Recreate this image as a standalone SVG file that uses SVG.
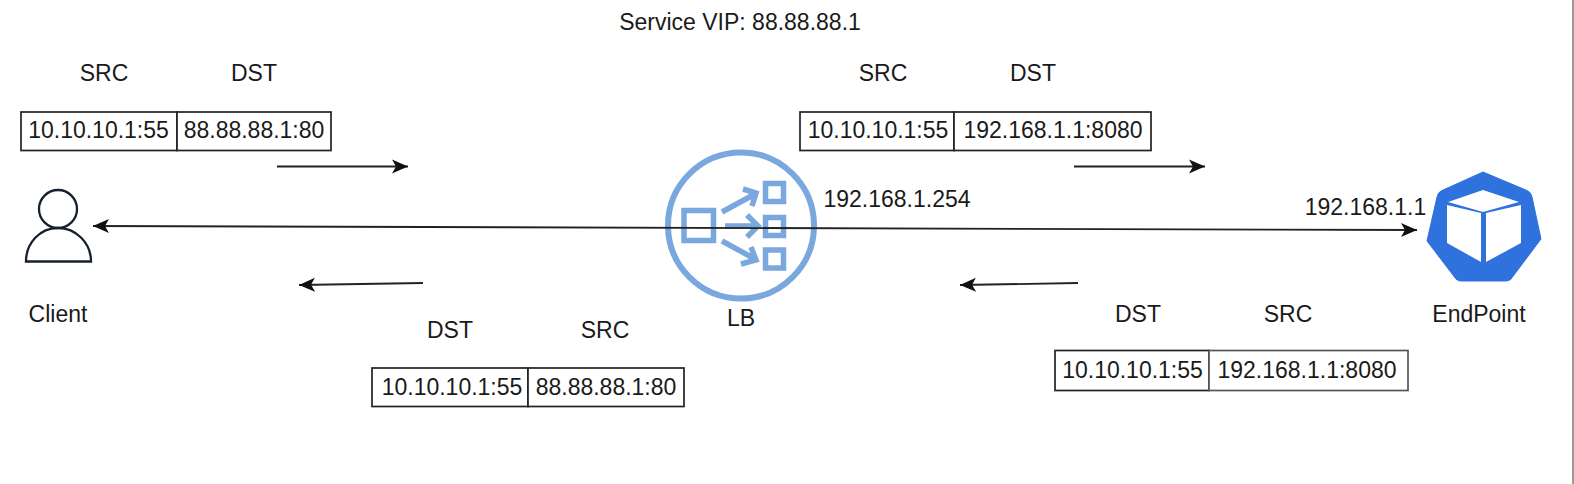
<svg xmlns="http://www.w3.org/2000/svg" width="1574" height="484" viewBox="0 0 1574 484">
<style>
text{font-family:"Liberation Sans",Arial,sans-serif;font-size:23px;fill:#1a1a1a;text-anchor:middle}
.box{fill:#fff;stroke:#222;stroke-width:1.7}
.c{fill:none;stroke:#222;stroke-width:1.8}
.lb{fill:none;stroke:#7aa7de;stroke-width:6}
.lbi{fill:none;stroke:#7aa7de;stroke-width:5.5}
</style>
<defs>
<marker id="a" markerUnits="userSpaceOnUse" markerWidth="18" markerHeight="16" refX="16" refY="8" orient="auto-start-reverse"><path d="M0 1 L16 8 L0 15 L4 8Z" fill="#111"/></marker>
</defs>
<rect width="1574" height="484" fill="#fff"/>
<rect x="1572" y="0" width="2" height="484" fill="#9a9a9a"/>
<text x="740" y="30">Service VIP: 88.88.88.1</text>
<g id="lb">
<circle cx="741" cy="225.500" r="73" class="lb"/>
<rect x="684" y="210.500" width="29.500" height="30" class="lbi"/>
<rect x="765.500" y="183.500" width="18" height="18" class="lbi"/>
<rect x="765.500" y="217.500" width="18" height="18" class="lbi"/>
<rect x="765.500" y="250" width="18" height="18" class="lbi"/>
<path d="M722 212 L755 194 M743 189 L756 193 L752 206 M725 226 L757 226 M747 215 L758 226 L747 237 M722 241 L755 259 M741 264 L756 260 L751 247" class="lbi"/>
<text x="741" y="326">LB</text>
<text x="897" y="207">192.168.1.254</text>
</g>
<g id="client">
<circle cx="58" cy="209" r="19" fill="none" stroke="#17202e" stroke-width="2.300"/>
<path d="M26 261.500 C26 243 40 228 58 228 C76 228 91 243 91 261.500 Z" fill="none" stroke="#17202e" stroke-width="2.300"/>
<text x="58" y="322">Client</text>
</g>
<g id="endpoint">
<path d="M1483 172 L1527 190.500 Q1531 192 1532 197 L1541 239 L1511 279 Q1509 281 1506 281 L1461 281 Q1458 281 1456 279 L1427 241 L1437 197 Q1438 192 1442 190.500 Z" fill="#2f72dd" stroke="#2f72dd" stroke-width="1"/>
<path d="M1448 202 L1483 190 L1519 202 L1483 212Z" fill="#fff"/>
<path d="M1447 205 L1481 213 L1481 262 L1447 243Z" fill="#fff"/>
<path d="M1486 213 L1521 205 L1521 243 L1486 262Z" fill="#fff"/>
<text x="1479" y="322">EndPoint</text>
<text x="1365.500" y="215">192.168.1.1</text>
</g>
<g id="connectors">
<path d="M93 226 L1417 230" class="c" marker-start="url(#a)" marker-end="url(#a)"/>
<path d="M277 166.500 L408 166.500" class="c" marker-end="url(#a)"/>
<path d="M1074 166.500 L1205 166.500" class="c" marker-end="url(#a)"/>
<path d="M423 283 L299 285" class="c" marker-end="url(#a)"/>
<path d="M1078 283 L960 285" class="c" marker-end="url(#a)"/>
</g>
<g id="table-tl">
<text x="104" y="81">SRC</text><text x="254" y="81">DST</text>
<rect x="21" y="112" width="156" height="38.500" class="box"/><rect x="177" y="112" width="154" height="38.500" class="box"/>
<text x="98.500" y="137.500">10.10.10.1:55</text><text x="254" y="137.500">88.88.88.1:80</text>
</g>
<g id="table-tr">
<text x="883" y="81">SRC</text><text x="1033" y="81">DST</text>
<rect x="800" y="112" width="154" height="38.500" class="box"/><rect x="954" y="112" width="197" height="38.500" class="box"/>
<text x="878" y="137.500">10.10.10.1:55</text><text x="1053" y="137.500">192.168.1.1:8080</text>
</g>
<g id="table-bl">
<text x="450" y="338">DST</text><text x="605" y="338">SRC</text>
<rect x="372" y="368" width="156" height="38.500" class="box"/><rect x="528" y="368" width="156" height="38.500" class="box"/>
<text x="452" y="395">10.10.10.1:55</text><text x="606" y="395">88.88.88.1:80</text>
</g>
<g id="table-br">
<text x="1138" y="322">DST</text><text x="1288" y="322">SRC</text>
<rect x="1055" y="350.500" width="154" height="40" class="box"/><rect x="1209" y="350.500" width="199" height="40" class="box" style="stroke:#555"/>
<text x="1132.500" y="378">10.10.10.1:55</text><text x="1307" y="378">192.168.1.1:8080</text>
</g>
</svg>
